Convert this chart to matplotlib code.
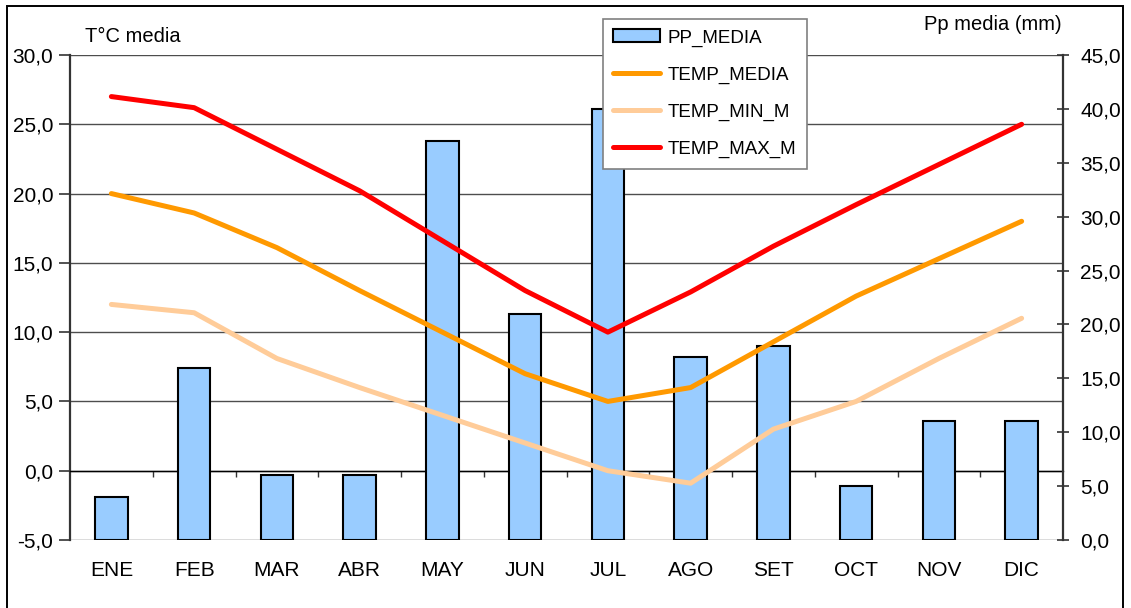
import numpy as np
import matplotlib
matplotlib.use('Agg')
import matplotlib.pyplot as plt
from matplotlib.patches import Rectangle
from matplotlib.ticker import FuncFormatter

plt.rcParams['font.family'] = ['Liberation Sans', 'DejaVu Sans']

# datos
meses = ['ENE', 'FEB', 'MAR', 'ABR', 'MAY', 'JUN', 'JUL', 'AGO', 'SET', 'OCT', 'NOV', 'DIC']
pp_media = [4, 16, 6, 6, 37, 21, 40, 17, 18, 5, 11, 11]
temp_media = [20.0, 18.6, 16.1, 13.0, 10.0, 7.0, 5.0, 6.0, 9.3, 12.6, 15.3, 18.0]
temp_min = [12.0, 11.4, 8.1, 6.0, 4.0, 2.0, 0.0, -0.9, 3.0, 5.0, 8.1, 11.0]
temp_max = [27.0, 26.2, 23.2, 20.2, 16.6, 13.0, 10.0, 12.9, 16.2, 19.2, 22.1, 25.0]

W, H = 1131, 608
fig = plt.figure(figsize=(W / 100, H / 100), dpi=100)
ax = fig.add_axes([70 / W, 1 - 540 / H, 993 / W, 485 / H])
axb = ax.twinx()   # barras (eje derecho)
axl = ax.twinx()   # lineas (misma escala que el eje izquierdo)

x = np.arange(len(meses))
coma = FuncFormatter(lambda v, p: f'{v:.1f}'.replace('.', ','))

# eje izquierdo: temperaturas + rejilla
ax.set_xlim(-0.5, 11.5)
ax.set_ylim(-5, 30)
ax.set_yticks(np.arange(-5, 31, 5))
ax.yaxis.set_major_formatter(coma)
ax.yaxis.grid(True, color='#4d4d4d', linewidth=1)
ax.set_axisbelow(True)
ax.tick_params(axis='y', direction='out', length=8, width=1.2, color='#333333',
               labelsize=15, pad=4)
ax.spines['top'].set_visible(False)
ax.spines['right'].set_visible(False)
ax.spines['left'].set_color('#333333')
ax.spines['left'].set_linewidth(1.6)
ax.spines['bottom'].set_position(('data', 0))
ax.spines['bottom'].set_color('black')
ax.spines['bottom'].set_linewidth(1)

ax.set_xticks(x)
ax.set_xticklabels(meses)
ax.set_xticks(np.arange(0.5, 11, 1), minor=True)
ax.tick_params(axis='x', which='major', length=0, labelsize=15, pad=65)
ax.tick_params(axis='x', which='minor', direction='out', length=4, width=1, color='#333333')

# eje derecho: precipitacion
bars = axb.bar(x, pp_media, width=0.39, color='#99CCFF', edgecolor='black',
               linewidth=1.5, label='PP_MEDIA')
axb.set_ylim(0, 45)
axb.set_yticks(np.arange(0, 46, 5))
axb.yaxis.set_major_formatter(coma)
axb.tick_params(axis='y', direction='inout', length=9, width=1.2, color='#333333',
                labelsize=15, pad=8)
for s in ['top', 'left', 'bottom']:
    axb.spines[s].set_visible(False)
axb.spines['right'].set_color('#333333')
axb.spines['right'].set_linewidth(1.6)

# lineas de temperatura
axl.set_ylim(-5, 30)
axl.yaxis.set_visible(False)
for s in axl.spines.values():
    s.set_visible(False)
l1, = axl.plot(x, temp_media, color='#FF9900', lw=3.6, solid_joinstyle='round',
               solid_capstyle='round', label='TEMP_MEDIA')
l2, = axl.plot(x, temp_min, color='#FFCC99', lw=3.6, solid_joinstyle='round',
               solid_capstyle='round', label='TEMP_MIN_M')
l3, = axl.plot(x, temp_max, color='#FF0000', lw=3.6, solid_joinstyle='round',
               solid_capstyle='round', label='TEMP_MAX_M')

leg = axl.legend([bars, l1, l2, l3], ['PP_MEDIA', 'TEMP_MEDIA', 'TEMP_MIN_M', 'TEMP_MAX_M'],
                 loc='upper left', bbox_to_anchor=(603 / W, 1 - 19 / H),
                 bbox_transform=fig.transFigure, frameon=True, fancybox=False,
                 edgecolor='#808080', framealpha=1, borderaxespad=0, fontsize=13.5,
                 handlelength=2.5, labelspacing=1.06, handletextpad=0.4, borderpad=0.55)
leg.get_frame().set_linewidth(1.2)

fig.text(85 / W, 1 - 37 / H, 'T°C media', ha='left', va='center', fontsize=14.5)
fig.text(1062 / W, 1 - 25 / H, 'Pp media (mm)', ha='right', va='center', fontsize=14.5)

# marco exterior
fig.add_artist(Rectangle((7 / W, -0.05), (1123 - 7) / W, 1.05 - 6 / H,
                         transform=fig.transFigure, fill=False, ec='black', lw=1.4))

fig.savefig('out.png', dpi=100)
